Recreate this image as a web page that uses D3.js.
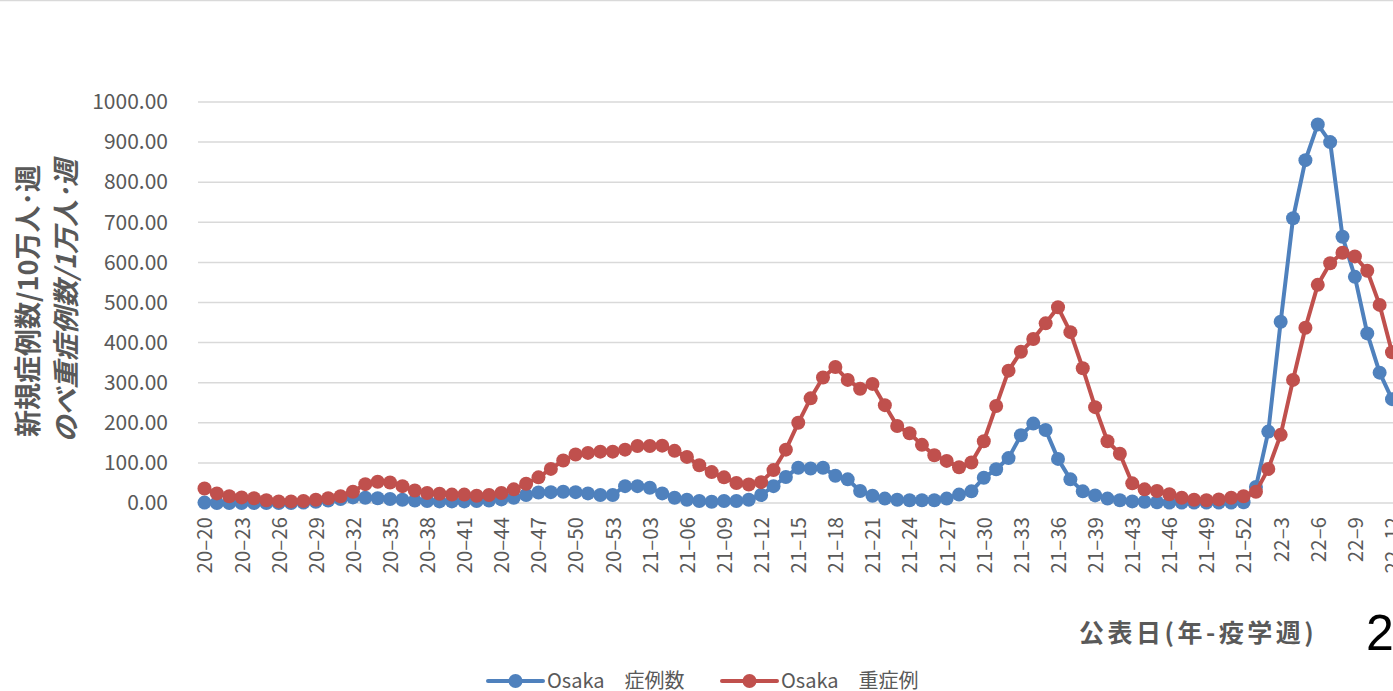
<!DOCTYPE html>
<html><head><meta charset="utf-8">
<script src="https://cdn.jsdelivr.net/npm/d3@7"></script>
<style>
html,body{margin:0;padding:0;background:#fff;overflow:hidden;}
text{font-family:"Noto Sans CJK JP","Noto Sans",sans-serif;}
</style></head>
<body>
<svg id="chart" width="1393" height="691"></svg>
<script>
const categories = [
"20–20","20–21","20–22","20–23","20–24","20–25","20–26","20–27","20–28","20–29",
"20–30","20–31","20–32","20–33","20–34","20–35","20–36","20–37","20–38","20–39",
"20–40","20–41","20–42","20–43","20–44","20–45","20–46","20–47","20–48","20–49",
"20–50","20–51","20–52","20–53",
"21–01","21–02","21–03","21–04","21–05","21–06","21–07","21–08","21–09","21–10",
"21–11","21–12","21–13","21–14","21–15","21–16","21–17","21–18","21–19","21–20",
"21–21","21–22","21–23","21–24","21–25","21–26","21–27","21–28","21–29","21–30",
"21–31","21–32","21–33","21–34","21–35","21–36","21–37","21–38","21–39","21–40",
"21–41","21–43","21–44","21–45","21–46","21–47","21–48","21–49","21–50","21–51",
"21–52",
"22–1","22–2","22–3","22–4","22–5","22–6","22–7","22–8","22–9","22–10","22–11","22–12"
];
const seriesNames = ["Osaka\u3000症例数", "Osaka\u3000重症例"];
const casesPer100k = [
1,0,0,0,0,0,0,0,1,3,
6,10,14,13,12,10,8,6,5,4,
4,4,5,6,9,13,20,26,27,28,
27,24,20,20,
42,42,38,24,13,8,5,3,5,5,
8,20,42,65,88,86,88,68,59,30,
18,11,8,7,7,7,11,21,29,63,
84,112,169,198,182,110,59,29,19,11,
7,4,3,2,1,1,1,1,1,1,
2,
40,178,452,710,855,944,900,664,564,423,325,259
];
const severePer10k = [
36,24,17,14,12,7,4,4,5,8,
12,17,28,47,53,51,42,31,25,23,
21,21,18,20,25,34,48,64,85,106,
121,125,128,128,
133,142,142,143,130,115,94,77,64,50,
46,52,82,133,200,261,313,339,307,285,
297,244,192,174,145,119,105,89,101,154,
242,330,377,409,448,488,426,336,239,154,
123,49,34,30,22,13,8,7,9,13,
17,
28,85,170,307,437,544,598,624,615,579,494,376
];
const yTicks = [0,100,200,300,400,500,600,700,800,900,1000];
const yTitleLines = ["新規症例数/10万人･週", "のべ重症例数/1万人･週"];
const xTitle = "公表日(年-疫学週)";
const colors = ["#4f81bd", "#c0504d"];

const svg = d3.select("#chart");
svg.append("rect").attr("width",1393).attr("height",691).attr("fill","#fff");
svg.append("line").attr("x1",0).attr("x2",1393).attr("y1",0.5).attr("y2",0.5)
  .attr("stroke","#d9d9d9").attr("stroke-width",1.5);

const x = d3.scalePoint().domain(categories).range([204.5, 1392]).padding(0);
const y = d3.scaleLinear().domain([0,1000]).range([503,102]);

// gridlines
svg.append("g").selectAll("line").data(yTicks).join("line")
  .attr("x1",198).attr("x2",1420)
  .attr("y1",d=>y(d)).attr("y2",d=>y(d))
  .attr("stroke","#d9d9d9").attr("stroke-width",1.5);

// y axis
const yAxis = svg.append("g").attr("transform","translate(198,0)")
  .call(d3.axisLeft(y).tickValues(yTicks).tickFormat(d3.format(".2f")).tickSize(0).tickPadding(30));
yAxis.select(".domain").remove();
yAxis.selectAll("text").attr("fill","#595959").style("font-size","21px")
  .style("font-family","'Noto Sans CJK JP',sans-serif");

// x axis labels (every 3rd)
const xAxis = svg.append("g").attr("transform","translate(0,503)")
  .call(d3.axisBottom(x).tickValues(categories.filter((d,i)=>i%3===0)).tickSize(0));
xAxis.select(".domain").remove();
xAxis.selectAll("text")
  .attr("transform","rotate(-90)")
  .attr("text-anchor","end")
  .attr("x",-14).attr("y",0).attr("dy","0.36em")
  .attr("fill","#595959").style("font-size","20.5px");

// y title
yTitleLines.forEach((t,i)=>{
  svg.append("text")
    .attr("transform",`translate(${[38,76][i]},301) rotate(-90)`)
    .attr("text-anchor","middle")
    .attr("fill","#595959").style("font-size","27px").style("font-weight","bold")
    .style("font-style", i===1 ? "italic" : "normal")
    .text(t);
});

// x title
svg.append("text").attr("x",1079).attr("y",642)
  .attr("fill","#595959").style("font-size","25px").style("font-weight","bold")
  .style("letter-spacing","3.5px")
  .text(xTitle);
svg.append("text").attr("x",1366).attr("y",650)
  .attr("fill","#000").style("font-size","50px")
  .style("font-family","'Liberation Sans',Arial,sans-serif")
  .text("2");

// series
const allSeries = [casesPer100k, severePer10k];
const line = d3.line().x((d,i)=>x(categories[i])).y(d=>y(d));
allSeries.forEach((vals,si)=>{
  const g = svg.append("g");
  g.append("path").datum(vals).attr("d",line).attr("fill","none")
    .attr("stroke",colors[si]).attr("stroke-width",4).attr("stroke-linejoin","round");
  g.selectAll("circle").data(vals).join("circle")
    .attr("cx",(d,i)=>x(categories[i])).attr("cy",d=>y(d)).attr("r",7)
    .attr("fill",colors[si]);
});

// legend
const legX = [488, 722];
seriesNames.forEach((n,i)=>{
  const g = svg.append("g").attr("transform",`translate(${legX[i]},681)`);
  g.append("line").attr("x1",0).attr("x2",55).attr("y1",0).attr("y2",0)
    .attr("stroke",colors[i]).attr("stroke-width",4).attr("stroke-linecap","round");
  g.append("circle").attr("cx",27.5).attr("cy",0).attr("r",7).attr("fill",colors[i]);
  g.append("text").attr("x",59).attr("y",0).attr("dy","0.35em")
    .attr("fill","#595959").style("font-size","20px")
    .text(n);
});
</script>
</body></html>
